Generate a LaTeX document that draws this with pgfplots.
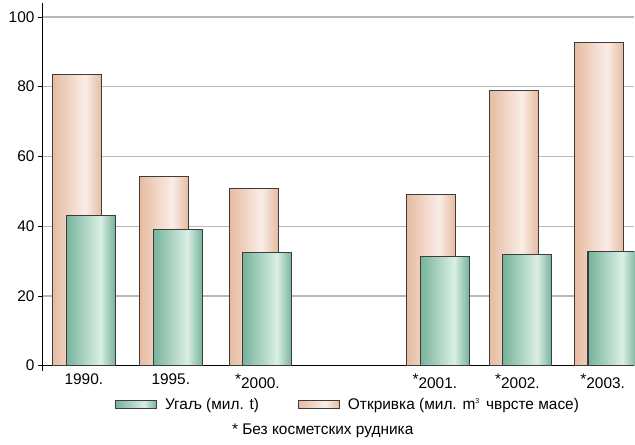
\documentclass[border=0pt]{standalone}
\usepackage{fontspec}
\setmainfont{Liberation Sans}
\usepackage{pgfplots}
\pgfplotsset{compat=1.18}
\usetikzlibrary{calc}

\definecolor{pinkd}{HTML}{E7BBA0}
\definecolor{pinkl}{HTML}{F9EDE7}
\definecolor{greend}{HTML}{76B39A}
\definecolor{greenl}{HTML}{DAEFE4}
\definecolor{gridgray}{HTML}{B8B8B8}
\definecolor{edge}{HTML}{3C3C3C}

\pgfdeclarehorizontalshading{pinkbar}{100bp}{color(0bp)=(pinkd); color(25bp)=(pinkd); color(58bp)=(pinkl); color(75bp)=(pinkd); color(100bp)=(pinkd)}
\pgfdeclarehorizontalshading{greenbar}{100bp}{color(0bp)=(greend); color(25bp)=(greend); color(60bp)=(greenl); color(75bp)=(greend); color(100bp)=(greend)}

\newcommand{\cf}{\fontsize{15.5}{18}\selectfont}

% each bar its own plot, so that the shading is per bar
\pgfplotsset{
  otk/.style={ybar, bar width=0.563, bar shift=-0.078, draw=edge, line width=1.1bp, shade, shading=pinkbar, forget plot},
  ugl/.style={ybar, bar width=0.563, bar shift=0.078, draw=edge, line width=1.1bp, shade, shading=greenbar, forget plot},
}

\begin{document}
\begin{tikzpicture}
\begin{axis}[name=ax,
  scale only axis, width=592bp, height=363bp,
  xmin=-0.47, xmax=6.33, ymin=0, ymax=104,
  axis lines*=left,
  axis line style={line width=1bp, black},
  y axis line style={shorten <=-5bp},
  ytick={0,20,...,100},
  ymajorgrids, grid style={line width=1.2bp, color=gridgray},
  xtick={0,1,2.03,4.07,5.02,6},
  xticklabels={1990., 1995., \llap{\raisebox{4bp}{*}}2000., \llap{\raisebox{4bp}{*}}2001., \llap{\raisebox{4bp}{*}}2002., \llap{\raisebox{4bp}{*}}2003.},
  tick label style={font=\cf},
  major tick length=5bp, tick align=outside,
  xtick style={draw=none},
  ytick style={line width=0.8bp, black},
  /pgf/number format/assume math mode=true,
  legend columns=2,
  legend style={at={(rel axis cs:0.1216,-0.107)}, anchor=west, draw=none, fill=none, font=\cf, inner sep=0pt,
    /tikz/every odd column/.append style={column sep=6bp},
    /tikz/every even column/.append style={column sep=37bp}},
  legend cell align=left,
]
\addlegendimage{legend image code/.code={\draw[draw=edge, line width=1bp, shade, shading=greenbar] (0bp,-3.75bp) rectangle (41bp,3.75bp);}}
\addlegendentry{Угаљ (мил. t)}
\addlegendimage{legend image code/.code={\draw[draw=edge, line width=1bp, shade, shading=pinkbar] (0bp,-3.75bp) rectangle (41bp,3.75bp);}}
\addlegendentry{Откривка (мил. m\raisebox{0.75ex}{\fontsize{7}{8}\selectfont 3}\, чврсте масе)}

% Откривка
\addplot[otk] coordinates {(0,83.4)};
\addplot[otk] coordinates {(1,54.3)};
\addplot[otk] coordinates {(2.03,50.8)};
\addplot[otk] coordinates {(4.07,49.0)};
\addplot[otk] coordinates {(5.02,78.8)};
\addplot[otk] coordinates {(6,92.8)};
% Угаљ
\addplot[ugl] coordinates {(0,43.0)};
\addplot[ugl] coordinates {(1,39.1)};
\addplot[ugl] coordinates {(2.03,32.4)};
\addplot[ugl] coordinates {(4.07,31.2)};
\addplot[ugl] coordinates {(5.02,32.0)};
\addplot[ugl] coordinates {(6,32.7)};
\end{axis}
\node[font=\cf] at ([yshift=-65bp]$(ax.south west)!0.473!(ax.south east)$) {* Без косметских рудника};
\path ([xshift=-43bp, yshift=-79bp]ax.south west) rectangle ([yshift=3bp]ax.north east);
\end{tikzpicture}
\end{document}
